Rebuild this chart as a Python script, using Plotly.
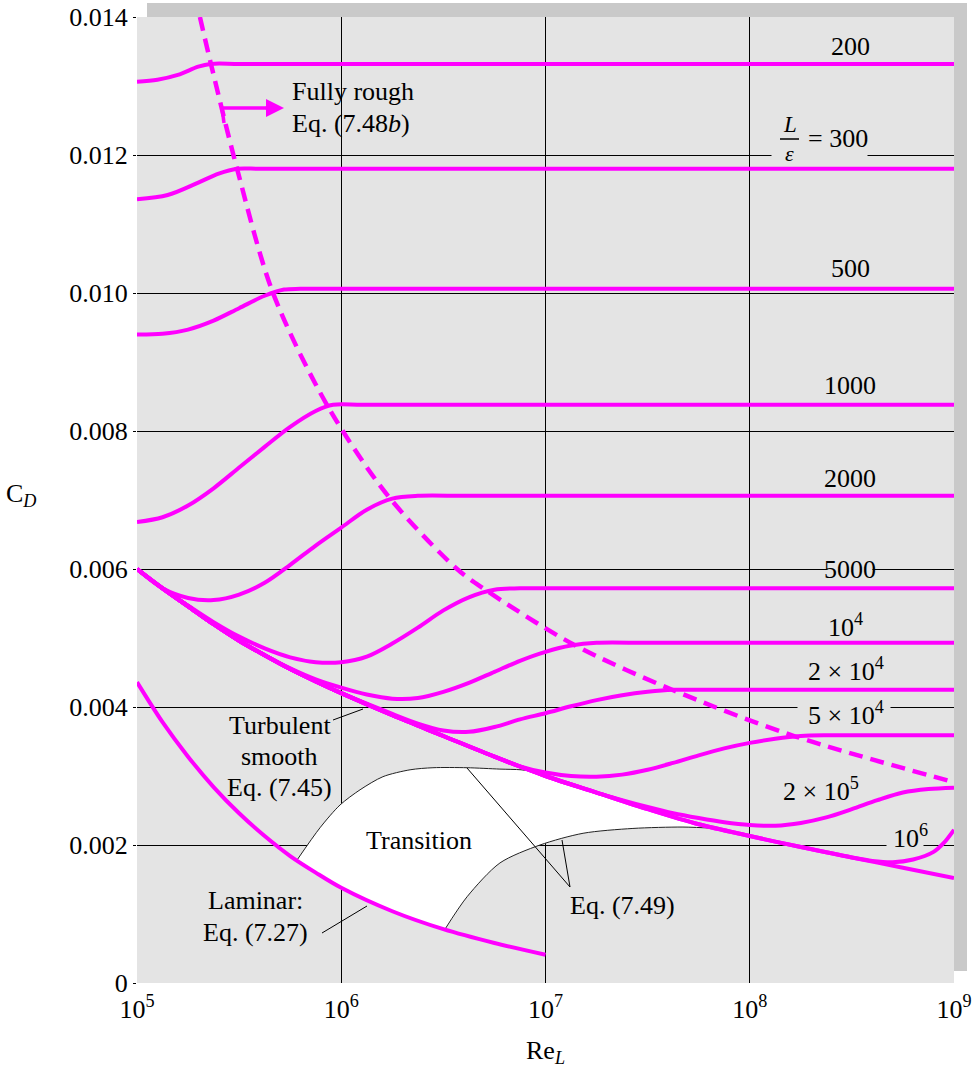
import numpy as np
import plotly.graph_objects as go

# ---------------- data (log10 Re_L, C_D) ----------------
SMOOTH_LOG = [5.0, 5.125, 5.25, 5.375, 5.5, 5.625, 5.75, 5.875, 6.0, 6.25, 6.5, 6.75, 7.0, 7.25, 7.5, 7.75,
              8.0, 8.25, 8.5, 8.75, 9.0]
SMOOTH_CD = [0.00600, 0.00572, 0.00546, 0.00520, 0.00496, 0.00475, 0.00455, 0.00437, 0.00420, 0.00388,
             0.00358, 0.00328, 0.00300, 0.00276, 0.00252, 0.00230, 0.00213, 0.00197, 0.00182, 0.00167,
             0.00152]

LAM_LOG = [5.0, 5.125, 5.25, 5.375, 5.5, 5.625, 5.75, 5.875, 6.0, 6.25, 6.5, 6.75, 7.0]
LAM_CD = [0.00436, 0.00378, 0.00328, 0.00284, 0.00246, 0.00213, 0.00184, 0.00160, 0.00138, 0.00104,
          0.00078, 0.00058, 0.00041]

ROUGH_LOG = [5.308, 5.362, 5.49, 5.666, 5.93, 6.229, 6.567, 6.7, 7.135, 7.62, 8.207, 9.0]
ROUGH_CD = [0.0140, 0.01332, 0.0118, 0.0100, 0.00838, 0.00706, 0.0060, 0.00571, 0.00491, 0.00425,
            0.00359, 0.00291]

R200_LOG = [5.0, 5.1, 5.2, 5.3, 5.36, 5.5, 6.0, 7.0, 8.0, 9.0]
R200_CD = [0.01306, 0.01309, 0.01316, 0.01328, 0.01332, 0.01332, 0.01332, 0.01332, 0.01332, 0.01332]

R300_LOG = [5.0, 5.15, 5.3, 5.4, 5.49, 5.6, 6.0, 7.0, 8.0, 9.0]
R300_CD = [0.01136, 0.01142, 0.01160, 0.01173, 0.01180, 0.01180, 0.01180, 0.01180, 0.01180, 0.01180]

R500_LOG = [5.0, 5.125, 5.25, 5.375, 5.5, 5.625, 5.72, 5.8, 6.0, 7.0, 8.0, 9.0]
R500_CD = [0.00940, 0.00941, 0.00947, 0.00960, 0.00978, 0.00996, 0.01005, 0.01006, 0.01006, 0.01006,
           0.01006, 0.01006]

R1000_LOG = [5.0, 5.125, 5.25, 5.375, 5.5, 5.625, 5.75, 5.875, 5.96, 6.1, 6.5, 7.0, 8.0, 9.0]
R1000_CD = [0.00668, 0.00675, 0.00692, 0.00717, 0.00747, 0.00777, 0.00806, 0.00829, 0.00838, 0.00838,
            0.00838, 0.00838, 0.00838, 0.00838]

R2000_LOG = [5.0, 5.125, 5.25, 5.375, 5.5, 5.625, 5.75, 5.875, 6.0, 6.125, 6.25, 6.375, 6.6, 7.0, 8.0, 9.0]
R2000_CD = [0.00600, 0.00572, 0.00558, 0.00555, 0.00563, 0.00580, 0.00606, 0.00634, 0.00660, 0.00686,
            0.00702, 0.00706, 0.00706, 0.00706, 0.00706, 0.00706]

R5000_LOG = [5.0, 5.125, 5.25, 5.375, 5.5, 5.625, 5.75, 5.875, 6.0, 6.125, 6.25, 6.375, 6.5, 6.625, 6.75,
             6.875, 7.1, 8.0, 9.0]
R5000_CD = [0.00600, 0.00572, 0.00547, 0.00523, 0.00502, 0.00485, 0.00472, 0.00465, 0.00465, 0.00473,
            0.00492, 0.00515, 0.00540, 0.00559, 0.00570, 0.00572, 0.00572, 0.00572, 0.00572]

R1E4_LOG = [5.0, 5.125, 5.25, 5.375, 5.5, 5.625, 5.75, 5.875, 6.0, 6.125, 6.25, 6.375, 6.5, 6.625, 6.75,
            6.875, 7.0, 7.125, 7.25, 7.5, 8.0, 9.0]
R1E4_CD = [0.00600, 0.00572, 0.00546, 0.00520, 0.00496, 0.00475, 0.00456, 0.00440, 0.00428, 0.00418,
           0.00412, 0.00413, 0.00422, 0.00435, 0.00451, 0.00467, 0.00480, 0.00489, 0.00493, 0.00493,
           0.00493, 0.00493]

R2E4_LOG = [5.0, 5.125, 5.25, 5.375, 5.5, 5.625, 5.75, 5.875, 6.0, 6.25, 6.375, 6.5, 6.625, 6.75, 6.875,
            7.0, 7.125, 7.25, 7.375, 7.5, 7.625, 7.75, 8.0, 9.0]
R2E4_CD = [0.00600, 0.00572, 0.00546, 0.00520, 0.00496, 0.00475, 0.00455, 0.00437, 0.00420, 0.00390,
           0.00376, 0.00366, 0.00364, 0.00371, 0.00382, 0.00391, 0.00401, 0.00410, 0.00417, 0.00422,
           0.00425, 0.00425, 0.00425, 0.00425]

R5E4_LOG = [5.0, 5.125, 5.25, 5.375, 5.5, 5.625, 5.75, 5.875, 6.0, 6.25, 6.5, 6.75, 6.875, 7.0, 7.125,
            7.25, 7.375, 7.5, 7.625, 7.75, 7.875, 8.0, 8.125, 8.25, 8.375, 8.5, 9.0]
R5E4_CD = [0.00600, 0.00572, 0.00546, 0.00520, 0.00496, 0.00475, 0.00455, 0.00437, 0.00420, 0.00388,
           0.00358, 0.00328, 0.00314, 0.00305, 0.00300, 0.00299, 0.00302, 0.00309, 0.00319, 0.00330,
           0.00340, 0.00348, 0.00354, 0.00358, 0.00359, 0.00359, 0.00359]

R2E5_LOG = [5.0, 5.125, 5.25, 5.375, 5.5, 5.625, 5.75, 5.875, 6.0, 6.25, 6.5, 6.75, 7.0, 7.25, 7.375,
            7.5, 7.625, 7.75, 7.875, 8.0, 8.125, 8.25, 8.375, 8.5, 8.625, 8.75, 8.875, 9.0]
R2E5_CD = [0.00600, 0.00572, 0.00546, 0.00520, 0.00496, 0.00475, 0.00455, 0.00437, 0.00420, 0.00388,
           0.00358, 0.00328, 0.00300, 0.00276, 0.00265, 0.00255, 0.00246, 0.00239, 0.00233, 0.00229,
           0.00228, 0.00232, 0.00240, 0.00252, 0.00265, 0.00276, 0.00281, 0.00283]

R1E6_LOG = [5.0, 5.125, 5.25, 5.375, 5.5, 5.625, 5.75, 5.875, 6.0, 6.25, 6.5, 6.75, 7.0, 7.25, 7.5, 7.75,
            8.0, 8.25, 8.5, 8.6, 8.7, 8.8, 8.9, 8.95, 9.0]
R1E6_CD = [0.00600, 0.00572, 0.00546, 0.00520, 0.00496, 0.00475, 0.00455, 0.00437, 0.00420, 0.00388,
           0.00358, 0.00328, 0.00300, 0.00276, 0.00252, 0.00230, 0.00213, 0.00197, 0.00182, 0.00177,
           0.00175, 0.00179, 0.00190, 0.00203, 0.00222]

# Transition region (Eq. 7.49) bounding arcs
UP_LOG = [5.783, 5.896, 5.994, 6.092, 6.204, 6.337, 6.449, 6.616, 6.777, 6.88, 6.95]
UP_CD = [0.00178, 0.00225, 0.00258, 0.00280, 0.00299, 0.00309, 0.00312, 0.00312, 0.00310, 0.00309, 0.00306]
LOW_LOG = [6.508, 6.616, 6.777, 6.973, 7.184, 7.428, 7.673, 7.84]
LOW_CD = [0.00078, 0.00125, 0.00174, 0.00200, 0.00217, 0.00224, 0.00226, 0.00224]

CURVE_LABELS = ["200", "500", "1000", "2000", "5000", "10<sup>4</sup>", "2 × 10<sup>4</sup>",
                "5 × 10<sup>4</sup>", "2 × 10<sup>5</sup>", "10<sup>6</sup>"]

X_TICK_EXP = [5, 6, 7, 8, 9]
Y_TICKS = [0, 0.002, 0.004, 0.006, 0.008, 0.010, 0.012, 0.014]
Y_TICK_TEXT = ["0", "0.002", "0.004", "0.006", "0.008", "0.010", "0.012", "0.014"]

# ---------------- layout geometry ----------------
W, H = 975, 1081
ML, MR, MT, MB = 137, 21, 17, 98
PW = W - ML - MR
PH = H - MT - MB


def px(x):
    return (x - ML) / PW


def py(y):
    return (H - MB - y) / PH


MAGENTA = "#ff00ff"
FONT = "Liberation Serif"
FS = 26
BG = "#e4e4e4"


def re(vals):
    return list(10 ** np.array(vals))


fig = go.Figure()

# white transition region
sm_mid = [(l, c) for l, c in zip(SMOOTH_LOG, SMOOTH_CD) if UP_LOG[-1] < l < LOW_LOG[-1]]
lam_mid = [(l, c) for l, c in zip(LAM_LOG, LAM_CD) if UP_LOG[0] < l < LOW_LOG[0]]
poly_log = UP_LOG + [p[0] for p in sm_mid] + LOW_LOG[::-1] + [p[0] for p in lam_mid][::-1]
poly_cd = UP_CD + [p[1] for p in sm_mid] + LOW_CD[::-1] + [p[1] for p in lam_mid][::-1]
fig.add_trace(go.Scatter(x=re(poly_log), y=poly_cd, mode="lines", fill="toself", fillcolor="white",
                         line=dict(width=0, shape="spline", smoothing=0.6), hoverinfo="skip"))
for lg, cd in [(UP_LOG, UP_CD), (LOW_LOG, LOW_CD)]:
    fig.add_trace(go.Scatter(x=re(lg), y=cd, mode="lines",
                             line=dict(color="#222222", width=1, shape="spline", smoothing=0.8)))

solid = [(R200_LOG, R200_CD), (R300_LOG, R300_CD), (R500_LOG, R500_CD), (R1000_LOG, R1000_CD),
         (R2000_LOG, R2000_CD), (R5000_LOG, R5000_CD), (R1E4_LOG, R1E4_CD), (R2E4_LOG, R2E4_CD),
         (R5E4_LOG, R5E4_CD), (R2E5_LOG, R2E5_CD), (R1E6_LOG, R1E6_CD), (SMOOTH_LOG, SMOOTH_CD),
         (LAM_LOG, LAM_CD)]
for lg, cd in solid:
    fig.add_trace(go.Scatter(x=re(lg), y=cd, mode="lines",
                             line=dict(color=MAGENTA, width=4, shape="spline", smoothing=0.9)))

fig.add_trace(go.Scatter(x=re(ROUGH_LOG), y=ROUGH_CD, mode="lines",
                         line=dict(color=MAGENTA, width=4.5, dash="14px,8px", shape="spline", smoothing=0.9)))

# ---------------- shapes ----------------
shapes = [
    dict(type="rect", xref="paper", yref="paper", x0=px(147), x1=px(967), y0=py(971), y1=py(3),
         fillcolor="#c9c9c9", line=dict(width=0), layer="below"),
    dict(type="rect", xref="paper", yref="paper", x0=0, x1=1, y0=0, y1=1,
         fillcolor=BG, line=dict(width=0), layer="below"),
]


def seg(x0, y0, x1, y1, color="black", width=1):
    return dict(type="line", xref="paper", yref="paper", x0=px(x0), y0=py(y0), x1=px(x1), y1=py(y1),
                line=dict(color=color, width=width))


shapes += [
    seg(224, 123, 222, 108, MAGENTA, 3.5),
    seg(220, 108, 270, 108, MAGENTA, 3.5),
    seg(780, 139, 799, 139, "black", 1.5),
    seg(333, 720, 363, 709),
    seg(322, 933, 367, 906),
    seg(467, 768, 570, 887),
    seg(570, 887, 562, 840),
]

# ---------------- annotations ----------------
ann = []


def txt(x, y, s, size=FS, xanchor="center", yanchor="middle", **kw):
    d = dict(x=px(x), y=py(y), xref="paper", yref="paper", text=s, showarrow=False,
             font=dict(family=FONT, size=size, color="black"), xanchor=xanchor, yanchor=yanchor)
    d.update(kw)
    return d


def mask(x0, x1, y):
    # thin background-coloured strip that interrupts a grid line behind a label
    return dict(x=px((x0 + x1) / 2), y=py(y), xref="paper", yref="paper", text=" ", showarrow=False,
                xanchor="center", yanchor="middle", width=x1 - x0, height=4, bgcolor=BG,
                borderpad=0, font=dict(size=3))


ann += [mask(772, 867, 155), mask(828, 872, 569), mask(798, 890, 707), mask(887, 923, 845)]

label_pos = [(850, 46), (850, 268), (850, 385), (850, 478), (850, 569), (845, 625), (846, 670),
             (846, 714), (821, 790), (910, 836)]
for (x, y), s in zip(label_pos, CURVE_LABELS):
    ann.append(txt(x, y, s))

ann.append(txt(790, 138, "<i>L</i>", size=23, yanchor="bottom", borderpad=0))
ann.append(txt(789, 140, "<i>ε</i>", size=22, yanchor="top", borderpad=0))
ann.append(txt(838, 138, "= 300"))

ann.append(txt(290, 92, "Fully rough", xanchor="left"))
ann.append(txt(290, 124, "Eq. (7.48<i>b</i>)", xanchor="left"))
ann.append(txt(280, 725, "Turbulent"))
ann.append(txt(279, 756, "smooth"))
ann.append(txt(279, 787, "Eq. (7.45)"))
ann.append(txt(419, 840, "Transition"))
ann.append(txt(255, 900, "Laminar:"))
ann.append(txt(255, 932, "Eq. (7.27)"))
ann.append(txt(622, 905, "Eq. (7.49)"))
ann.append(txt(21, 495, "C<sub><i>D</i></sub>"))
ann.append(txt(545, 1052, "Re<sub><i>L</i></sub>"))

ann.append(dict(x=px(284), y=py(108), xref="paper", yref="paper", ax=-20, ay=0, text="",
                showarrow=True, arrowhead=2, arrowsize=1.2, arrowwidth=3, arrowcolor=MAGENTA))

fig.update_layout(
    width=W, height=H, autosize=False,
    margin=dict(l=ML, r=MR, t=MT, b=MB, pad=0, autoexpand=False),
    paper_bgcolor="white", plot_bgcolor="rgba(0,0,0,0)",
    showlegend=False,
    font=dict(family=FONT, size=FS, color="black"),
    shapes=shapes, annotations=ann,
    xaxis=dict(type="log", range=[5, 9], tickvals=[10 ** e for e in X_TICK_EXP],
               ticktext=[f"10<sup>{e}</sup>" for e in X_TICK_EXP], automargin=False,
               showgrid=True, gridcolor="black", gridwidth=1, zeroline=False, showline=False,
               ticks="", ticklabelstandoff=8, tickfont=dict(family=FONT, size=FS)),
    yaxis=dict(range=[0, 0.014], tickvals=Y_TICKS, ticktext=Y_TICK_TEXT, automargin=False,
               showgrid=True, gridcolor="black", gridwidth=1, zeroline=False, showline=False,
               ticks="outside", ticklen=3, tickcolor="black", ticklabelstandoff=0,
               tickfont=dict(family=FONT, size=FS)),
)

POST = ("document.documentElement.style.overflow='hidden';document.body.style.margin='0px';"
        "var g=document.getElementById('{plot_id}');g.style.position='absolute';"
        "g.style.left='0px';g.style.top='0px';")
fig.write_html("out.html", post_script=POST, config={"displayModeBar": False})
